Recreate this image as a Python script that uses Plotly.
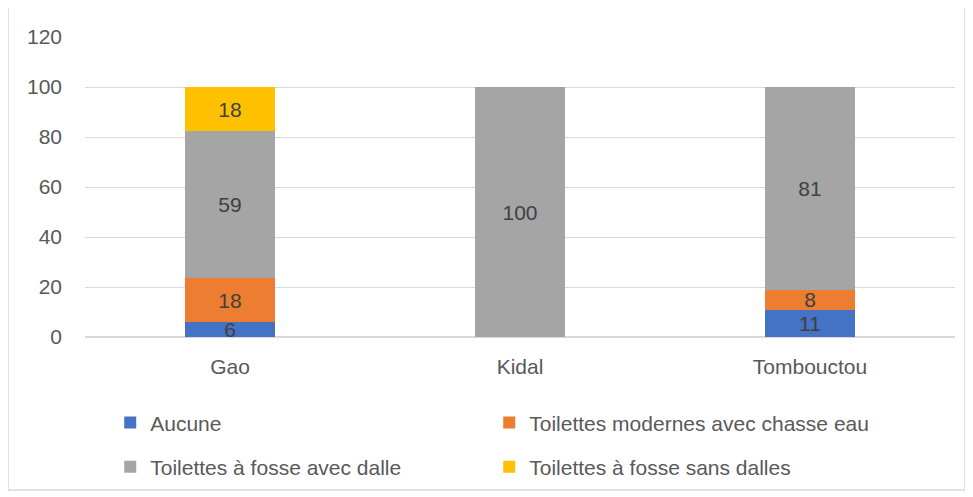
import plotly.graph_objects as go

# regions and sanitation types
regions = ["Gao", "Kidal", "Tombouctou"]
aucune = [5.9, 0, 11]
modernes = [17.6, 0, 8]
fosse_dalle = [58.8, 100, 81]
fosse_sans = [17.6, 0, 0]

series = [
    ("Aucune", aucune, "#4472C4", "legend"),
    ("Toilettes modernes avec chasse eau", modernes, "#ED7D31", "legend"),
    ("Toilettes à fosse avec dalle", fosse_dalle, "#A5A5A5", "legend2"),
    ("Toilettes à fosse sans dalles", fosse_sans, "#FFC000", "legend2"),
]

FONT = "Liberation Sans"
FS = 21
fig = go.Figure()
for name, vals, col, leg in series:
    # label only non-empty segments
    labels = ["" if v == 0 else "%d" % round(v) for v in vals]
    fig.add_trace(go.Bar(
        x=regions, y=vals, name=name, legend=leg,
        marker=dict(color=col, line_width=0),
        text=labels, textposition="inside", insidetextanchor="middle", textangle=0,
        textfont=dict(family=FONT, size=FS, color="#404040"),
        constraintext="none",
    ))

leg_common = dict(orientation="h", x=0.029, xanchor="left", yanchor="top",
                  entrywidth=334, traceorder="normal", bgcolor="rgba(0,0,0,0)",
                  itemwidth=30,
                  font=dict(family=FONT, size=FS, color="#595959"))

# page has an 8px body offset, so margins are shifted to compensate
fig.update_layout(
    barmode="stack", bargap=0.69,
    width=973, height=497,
    margin=dict(l=77, r=26, t=29, b=168),
    paper_bgcolor="white", plot_bgcolor="white",
    font=dict(family=FONT, size=FS, color="#595959"),
    uniformtext=dict(minsize=FS, mode="show"),
    legend=dict(y=-0.218, **leg_common),
    legend2=dict(y=-0.365, **leg_common),
)
fig.update_yaxes(range=[0, 120], dtick=20, showgrid=True, gridcolor="#D9D9D9",
                 gridwidth=1, zeroline=True, zerolinecolor="#D9D9D9", zerolinewidth=2,
                 ticks="", ticklabelstandoff=22, tickfont=dict(size=FS))
fig.update_xaxes(showline=False, ticks="", tickfont=dict(size=FS), ticklabelstandoff=15)

# outer chart border
fig.add_shape(type="rect", xref="paper", yref="paper",
              x0=-0.0885, x1=1.0115, y0=-0.51, y1=1.1,
              line=dict(color="#D9D9D9", width=1.5), fillcolor="rgba(0,0,0,0)", layer="below")

fig.write_html("out.html")
